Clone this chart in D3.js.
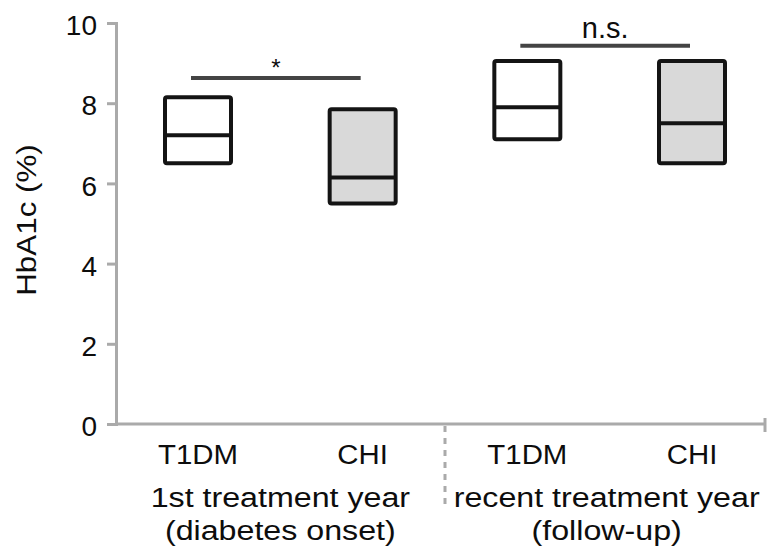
<!DOCTYPE html>
<html>
<head>
<meta charset="utf-8">
<script src="https://cdn.jsdelivr.net/npm/d3@7"></script>
<style>
  body { margin: 0; background: #fff; }
  svg { display: block; font-family: "Liberation Sans", Arial, sans-serif; }
</style>
</head>
<body>
<svg id="chart" width="767" height="549"></svg>
<script>
// groups on the x axis, in drawing order
const keys = ["onset-T1DM", "onset-CHI", "recent-T1DM", "recent-CHI"];
const boxLabels = ["T1DM", "CHI", "T1DM", "CHI"];
const boxLow = [6.5, 5.5, 7.1, 6.5];
const boxMedian = [7.2, 6.15, 7.9, 7.5];
const boxHigh = [8.15, 7.85, 9.05, 9.05];
const boxFilled = [false, true, false, true];

const periodLabels = [
    ["1st treatment year", "(diabetes onset)"],
    ["recent treatment year", "(follow-up)"]
];

// significance brackets: from box, to box, height, text
const sigFrom = [0, 2];
const sigTo = [1, 3];
const sigLevel = [8.63, 9.43];
const sigText = ["*", "n.s."];

const yTicks = [0, 2, 4, 6, 8, 10];

const svg = d3.select("#chart");
const axisX = 116, axisRight = 765;
const y0 = 424, y10 = 23;
const boxW = 66;
const fs = 28;
const stretch = 1.15; // the original lettering runs a bit wider than Arial

const y = d3.scaleLinear().domain([0, 10]).range([y0, y10]);
const x = d3.scalePoint().domain(keys).range([198, 692]);

const grey = "#aaaaaa";
const ink = "#0d0d0d";

function label(g, tx, ty, t, rot, sx) {
    return g.append("text")
        .attr("transform", `translate(${tx},${ty})` + (rot ? ` rotate(${rot})` : "") + ` scale(${sx || 1},1)`)
        .attr("text-anchor", "middle")
        .attr("font-size", fs)
        .attr("fill", ink)
        .text(t);
}

// y axis
const yAxis = svg.append("g")
    .attr("transform", `translate(${axisX},0)`)
    .call(d3.axisLeft(y).tickValues(yTicks).tickSize(9).tickSizeOuter(9).tickPadding(10));
yAxis.selectAll("path, line").attr("stroke", grey).attr("stroke-width", 3);
yAxis.selectAll("text")
    .attr("font-size", fs)
    .attr("dy", "0.42em")
    .attr("fill", ink)
    .attr("font-family", "Liberation Sans, Arial, sans-serif");

// x axis line with end tick
svg.append("line")
    .attr("x1", axisX).attr("x2", axisRight)
    .attr("y1", y0).attr("y2", y0)
    .attr("stroke", grey).attr("stroke-width", 3);
svg.append("line")
    .attr("x1", axisRight).attr("x2", axisRight)
    .attr("y1", y0 - 6).attr("y2", y0 + 8)
    .attr("stroke", grey).attr("stroke-width", 3);

// dashed separator between the two periods
const sepX = (x(keys[1]) + x(keys[2])) / 2;
svg.append("line")
    .attr("x1", sepX).attr("x2", sepX)
    .attr("y1", y0 + 2).attr("y2", 505)
    .attr("stroke", grey).attr("stroke-width", 3)
    .attr("stroke-dasharray", "6,6");

// y label
label(svg, 36, 220, "HbA1c (%)", -90, 1.12);

// boxes
const boxes = svg.append("g")
    .selectAll("g")
    .data(keys)
    .join("g");

boxes.append("rect")
    .attr("x", d => x(d) - boxW / 2)
    .attr("y", (d, i) => y(boxHigh[i]))
    .attr("width", boxW)
    .attr("height", (d, i) => y(boxLow[i]) - y(boxHigh[i]))
    .attr("rx", 2)
    .attr("fill", (d, i) => boxFilled[i] ? "#d9d9d9" : "#fff")
    .attr("stroke", "#141414")
    .attr("stroke-width", 4);

boxes.append("line")
    .attr("x1", d => x(d) - boxW / 2)
    .attr("x2", d => x(d) + boxW / 2)
    .attr("y1", (d, i) => y(boxMedian[i]))
    .attr("y2", (d, i) => y(boxMedian[i]))
    .attr("stroke", "#141414")
    .attr("stroke-width", 4);

// category labels
keys.forEach((k, i) => label(svg, x(k), 464, boxLabels[i], 0, 1.05));

// period labels
periodLabels.forEach((lines, p) => {
    const cx = (x(keys[p * 2]) + x(keys[p * 2 + 1])) / 2 - p * 3;
    lines.forEach((t, j) => label(svg, cx, 507 + j * 33, t, 0, stretch));
});

// significance brackets
sigText.forEach((t, i) => {
    const xa = x(keys[sigFrom[i]]) - 7;
    const xb = x(keys[sigTo[i]]) - 2;
    svg.append("line")
        .attr("x1", xa).attr("x2", xb)
        .attr("y1", y(sigLevel[i])).attr("y2", y(sigLevel[i]))
        .attr("stroke", "#444").attr("stroke-width", 4);
    label(svg, (xa + xb) / 2, y(sigLevel[i]) - (t === "*" ? 2 : 8), t)
        .attr("font-size", t === "*" ? 24 : 29);
});
</script>
</body>
</html>
